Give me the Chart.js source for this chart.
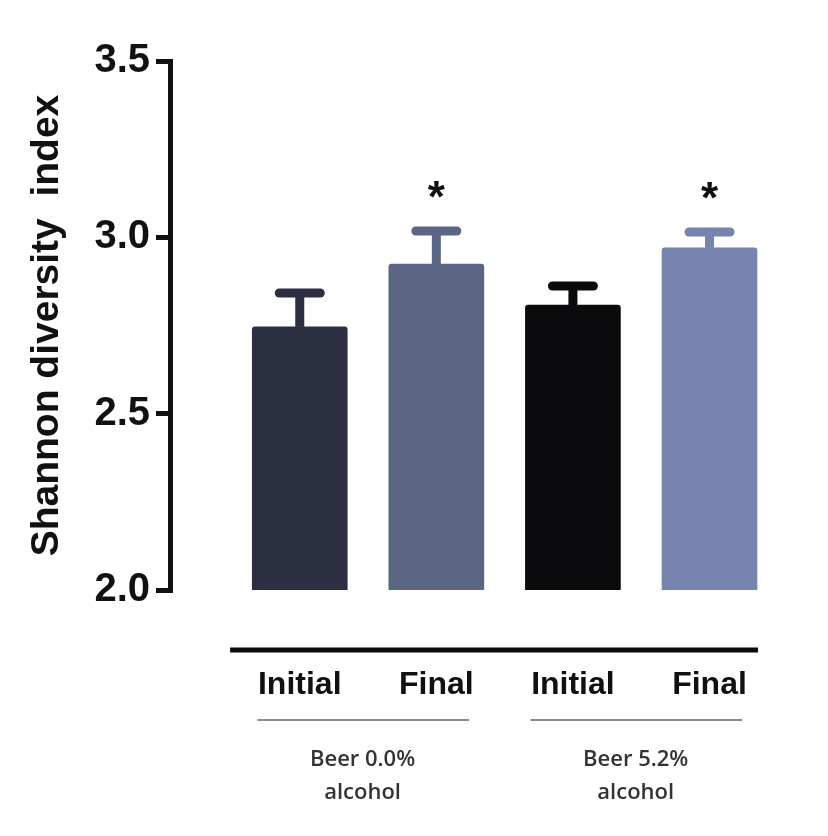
<!DOCTYPE html>
<html>
<head>
<meta charset="utf-8">
<script src="https://cdn.jsdelivr.net/npm/chart.js@4.4.1/dist/chart.umd.min.js"></script>
<style>
  html, body { margin: 0; padding: 0; background: #fff; }
  #wrap { width: 828px; height: 836px; }
</style>
</head>
<body>
<div id="wrap"><canvas id="chart" width="828" height="836"></canvas></div>
<script>
// values
const labels = ['Initial', 'Final', 'Initial', 'Final'];
const means = [2.746, 2.924, 2.808, 2.970];
const errors = [0.096, 0.094, 0.054, 0.045];
const signif = ['', '*', '', '*'];
const barColors = ['#2c2e42', '#5b6685', '#0b0b0e', '#7784b0'];
const groupLabels = [['Beer 0.0%', 'alcohol'], ['Beer 5.2%', 'alcohol']];
const groupStart = [0, 2];
const yTicks = [2.0, 2.5, 3.0, 3.5];

const FONT = "'Liberation Sans', Arial, sans-serif";

// error bars, asterisks, group bracket line and group labels
const extras = {
    id: 'extras',
    afterDatasetsDraw(chart) {
        const ctx = chart.ctx;
        const xs = chart.scales.x, ys = chart.scales.y;
        ctx.save();
        means.forEach((m, i) => {
            const x = xs.getPixelForValue(i);
            const yBar = ys.getPixelForValue(m);
            const yTop = ys.getPixelForValue(m + errors[i]);
            ctx.strokeStyle = barColors[i];
            ctx.lineWidth = 9;
            ctx.lineCap = 'butt';
            ctx.beginPath();
            ctx.moveTo(x, yBar);
            ctx.lineTo(x, yTop);
            ctx.stroke();
            ctx.lineCap = 'round';
            ctx.beginPath();
            ctx.moveTo(x - 20.5, yTop);
            ctx.lineTo(x + 20.5, yTop);
            ctx.stroke();
            if (signif[i]) {
                ctx.fillStyle = '#111';
                ctx.font = 'bold 44px ' + FONT;
                ctx.textAlign = 'center';
                ctx.textBaseline = 'alphabetic';
                ctx.fillText(signif[i], x, yTop - 19);
            }
        });
        ctx.restore();
    },
    afterDraw(chart) {
        const ctx = chart.ctx;
        const xs = chart.scales.x;
        const base = chart.chartArea.bottom;
        ctx.save();
        // thick line under the bars
        ctx.strokeStyle = '#0a0a0a';
        ctx.lineWidth = 5;
        ctx.beginPath();
        ctx.moveTo(xs.getPixelForValue(-0.51), base + 60);
        ctx.lineTo(xs.getPixelForValue(3.355), base + 60);
        ctx.stroke();
        // group underlines and labels
        groupStart.forEach((g, k) => {
            ctx.strokeStyle = '#8a8a8a';
            ctx.lineWidth = 2;
            ctx.beginPath();
            ctx.moveTo(xs.getPixelForValue(g - 0.31), base + 130);
            ctx.lineTo(xs.getPixelForValue(g + 1.24), base + 130);
            ctx.stroke();
            ctx.fillStyle = '#333';
            ctx.font = "600 22px 'Open Sans', sans-serif";
            ctx.textAlign = 'center';
            ctx.textBaseline = 'middle';
            const cx = xs.getPixelForValue(g + 0.46);
            groupLabels[k].forEach((line, j) => {
                ctx.fillText(line, cx, base + 170 + j * 33);
            });
        });
        ctx.restore();
    }
};

new Chart(document.getElementById('chart'), {
    type: 'bar',
    data: {
        datasets: [{
            data: means.map((v, i) => ({ x: i, y: v })),
            backgroundColor: barColors,
            borderWidth: 0,
            borderRadius: 3,
            barThickness: 95
        }]
    },
    options: {
        responsive: false,
        animation: false,
        layout: { padding: { top: 61, right: 46, left: 0, bottom: 0 } },
        plugins: { legend: { display: false }, tooltip: { enabled: false } },
        scales: {
            x: {
                type: 'linear',
                offset: false,
                min: -0.95,
                max: 3.5,
                afterBuildTicks: s => { s.ticks = labels.map((_, i) => ({ value: i })); },
                afterFit: s => { s.height = 836 - 590; },
                grid: { display: false, drawTicks: false, offset: false },
                border: { display: false },
                ticks: {
                    autoSkip: false,
                    maxRotation: 0,
                    padding: 76,
                    color: '#111',
                    font: { family: FONT, size: 32, weight: 'bold' },
                    callback: v => labels[v]
                }
            },
            y: {
                min: 2.0,
                max: 3.5,
                afterBuildTicks: s => { s.ticks = yTicks.map(v => ({ value: v })); },
                afterFit: s => { s.width = 170; },
                border: { display: true, color: '#111', width: 5 },
                grid: { drawOnChartArea: false, drawTicks: true, tickLength: 14, lineWidth: 5, color: '#111' },
                ticks: {
                    padding: 6,
                    color: '#111',
                    font: { family: FONT, size: 40, weight: 'bold' },
                    callback: v => v.toFixed(1)
                },
                title: {
                    display: true,
                    text: 'Shannon diversity  index',
                    color: '#111',
                    font: { family: FONT, size: 39, weight: 'bold' },
                    padding: { top: 24, bottom: 0 }
                }
            }
        }
    },
    plugins: [extras]
});
</script>
</body>
</html>
